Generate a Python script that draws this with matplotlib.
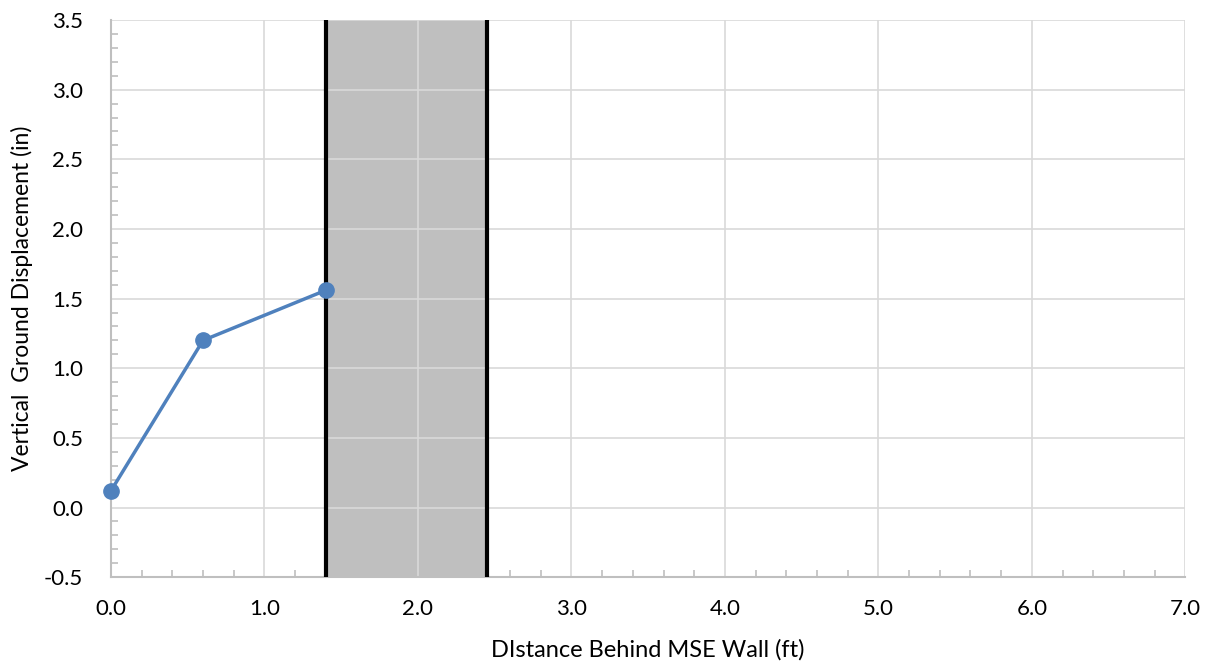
import matplotlib
matplotlib.use('Agg')
import matplotlib.pyplot as plt
from matplotlib.ticker import MultipleLocator

# distance behind wall (ft) and vertical displacement (in)
distance = [0.0, 0.6, 1.4]
displacement = [0.12, 1.20, 1.56]

# shaded zone limits (ft)
zone_start = 1.4
zone_end = 2.45

plt.rcParams['font.family'] = ['Lato', 'DejaVu Sans']

fig = plt.figure(figsize=(12.14, 6.68), dpi=100)
ax = fig.add_axes([0.0914, 0.136, 0.885, 0.834])

grid_col = '#d9d9d9'
ax.axvspan(zone_start, zone_end, color='#bfbfbf', zorder=0)
ax.grid(True, color=grid_col, linewidth=1.2, zorder=1)
ax.set_axisbelow(True)
ax.axvline(zone_start, color='black', linewidth=3, zorder=3)
ax.axvline(zone_end, color='black', linewidth=3, zorder=3)

ax.plot(distance, displacement, color='#4f81bd', linewidth=2.5,
        marker='o', markersize=11, zorder=4, clip_on=False)

ax.set_xlim(0, 7)
ax.set_ylim(-0.5, 3.5)
ax.xaxis.set_major_locator(MultipleLocator(1.0))
ax.xaxis.set_minor_locator(MultipleLocator(0.2))
ax.yaxis.set_major_locator(MultipleLocator(0.5))
ax.yaxis.set_minor_locator(MultipleLocator(0.1))
ax.xaxis.set_major_formatter(lambda v, p: f'{v:.1f}')
ax.yaxis.set_major_formatter(lambda v, p: f'{v:.1f}')

for s in ['top', 'right']:
    ax.spines[s].set_visible(False)
for s in ['left', 'bottom']:
    ax.spines[s].set_color('#bfbfbf')
    ax.spines[s].set_linewidth(1.5)

ax.tick_params(axis='both', which='major', length=0, labelsize=16)
ax.tick_params(axis='x', which='major', pad=16)
ax.tick_params(axis='y', which='major', pad=20)
ax.tick_params(axis='x', which='minor', direction='in', length=5, color='#bfbfbf', width=1.2)
ax.tick_params(axis='y', which='minor', direction='in', length=5, color='#bfbfbf', width=1.2)

ax.set_xlabel('DIstance Behind MSE Wall (ft)', fontsize=17, labelpad=14)
ax.set_ylabel('Vertical  Ground Displacement (in)', fontsize=16.5, labelpad=8)

fig.savefig('out.png', dpi=100)
